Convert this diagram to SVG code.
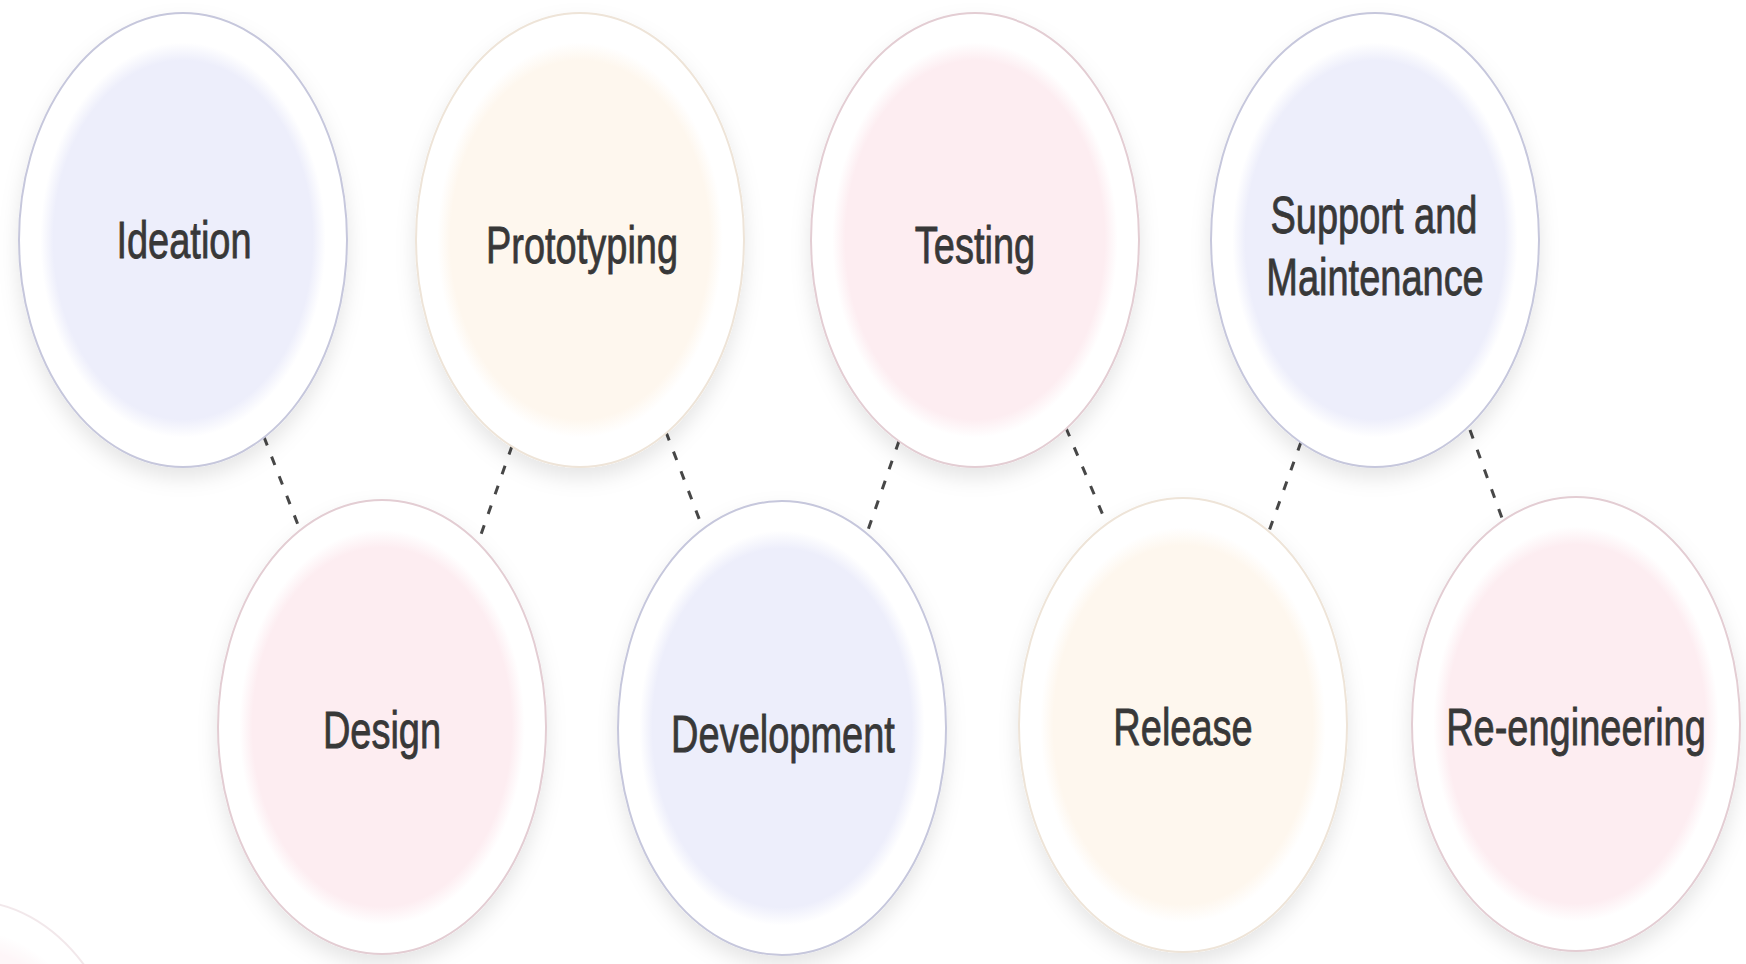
<svg xmlns="http://www.w3.org/2000/svg" width="1746" height="964" viewBox="0 0 1746 964">
  <defs>
    <radialGradient id="gLav" cx="50%" cy="50%" r="50%">
      <stop offset="0" stop-color="#edeefb"/>
      <stop offset="0.79" stop-color="#edeefb"/>
      <stop offset="0.87" stop-color="#ffffff"/>
      <stop offset="1" stop-color="#ffffff"/>
    </radialGradient>
    <radialGradient id="gPink" cx="50%" cy="50%" r="50%">
      <stop offset="0" stop-color="#fdedf1"/>
      <stop offset="0.79" stop-color="#fdedf1"/>
      <stop offset="0.87" stop-color="#ffffff"/>
      <stop offset="1" stop-color="#ffffff"/>
    </radialGradient>
    <radialGradient id="gCream" cx="50%" cy="50%" r="50%">
      <stop offset="0" stop-color="#fef7ee"/>
      <stop offset="0.79" stop-color="#fef7ee"/>
      <stop offset="0.87" stop-color="#ffffff"/>
      <stop offset="1" stop-color="#ffffff"/>
    </radialGradient>
    <filter id="shadow" x="-20%" y="-20%" width="140%" height="150%">
      <feDropShadow dx="0" dy="10" stdDeviation="10" flood-color="#000000" flood-opacity="0.10"/>
    </filter>
  </defs>
  <style>
    .node { stroke-width: 2; filter: url(#shadow); }
    .lav { fill: url(#gLav); stroke: #c6c7dc; }
    .pink { fill: url(#gPink); stroke: #e3cdd3; }
    .cream { fill: url(#gCream); stroke: #eee4d8; }
    .label { font-family: "Liberation Sans", Arial, sans-serif; font-size: 38px; fill: #383838; stroke: #383838; stroke-width: 0.6; text-anchor: middle; }
    .conn { stroke: #474747; stroke-width: 3; stroke-dasharray: 9 12; fill: none; }
  </style>
  <rect width="1746" height="964" fill="#ffffff"/>

  <g id="decor" opacity="0.45">
    <ellipse cx="-30" cy="1128" rx="164" ry="227" class="pink" style="stroke-width:2"/>
  </g>

  <g id="connectors">
    <line class="conn" x1="264" y1="437" x2="300" y2="530"/>
    <line class="conn" x1="512" y1="446" x2="478" y2="543"/>
    <line class="conn" x1="666" y1="432" x2="703" y2="529"/>
    <line class="conn" x1="899" y1="441" x2="867" y2="533"/>
    <line class="conn" x1="1066" y1="428" x2="1108" y2="527"/>
    <line class="conn" x1="1301" y1="442" x2="1268" y2="534"/>
    <line class="conn" x1="1470" y1="430" x2="1502" y2="518"/>
  </g>

  <g id="ideation">
    <ellipse class="node lav" cx="183" cy="240" rx="164" ry="227"/>
    <text class="label" transform="translate(184,258) scale(1,1.384)">Ideation</text>
  </g>
  <g id="prototyping">
    <ellipse class="node cream" cx="580" cy="240" rx="164" ry="227"/>
    <text class="label" transform="translate(582,263) scale(1,1.384)">Prototyping</text>
  </g>
  <g id="testing">
    <ellipse class="node pink" cx="975" cy="240" rx="164" ry="227"/>
    <text class="label" transform="translate(975,263) scale(1,1.384)">Testing</text>
  </g>
  <g id="support">
    <ellipse class="node lav" cx="1375" cy="240" rx="164" ry="227"/>
    <text class="label" transform="translate(1374,233) scale(1,1.384)">Support and</text>
    <text class="label" transform="translate(1375,295) scale(1,1.384)">Maintenance</text>
  </g>
  <g id="design">
    <ellipse class="node pink" cx="382" cy="727" rx="164" ry="227"/>
    <text class="label" transform="translate(382,748) scale(1,1.384)">Design</text>
  </g>
  <g id="development">
    <ellipse class="node lav" cx="782" cy="728" rx="164" ry="227"/>
    <text class="label" transform="translate(783,752) scale(1,1.384)">Development</text>
  </g>
  <g id="release">
    <ellipse class="node cream" cx="1183" cy="725" rx="164" ry="227"/>
    <text class="label" transform="translate(1183,745) scale(1,1.384)">Release</text>
  </g>
  <g id="reengineering">
    <ellipse class="node pink" cx="1576" cy="724" rx="164" ry="227"/>
    <text class="label" transform="translate(1576,745) scale(1,1.384)">Re-engineering</text>
  </g>
</svg>
